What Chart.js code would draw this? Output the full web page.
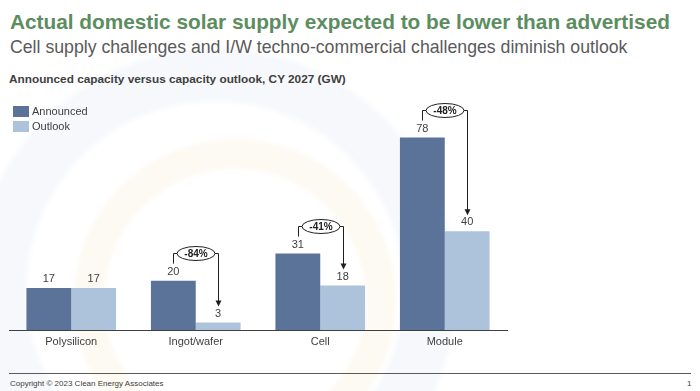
<!DOCTYPE html>
<html>
<head>
<meta charset="utf-8">
<script src="https://cdn.jsdelivr.net/npm/chart.js@4.4.0/dist/chart.umd.min.js"></script>
<style>
  html, body { margin: 0; padding: 0; }
  body {
    width: 700px; height: 391px; position: relative; overflow: hidden;
    font-family: "Liberation Sans", Arial, sans-serif;
    background:
      radial-gradient(circle at 235px 300px, rgba(255,255,255,0) 128px, rgba(252,245,230,0.5) 134px, rgba(252,245,230,0.5) 158px, rgba(255,255,255,0) 164px),
      radial-gradient(circle at 215px 290px, rgba(255,255,255,0) 185px, rgba(240,244,249,0.6) 192px, rgba(240,244,249,0.6) 238px, rgba(255,255,255,0) 245px),
      #fff;
  }
  .txt { position: absolute; white-space: nowrap; }
  #title { left: 10px; top: 10px; font-size: 20.8px; font-weight: bold; color: #5b8d5e; }
  #sub { left: 10px; top: 37px; font-size: 17.7px; color: #5a5a5a; }
  #head { left: 9px; top: 72px; font-size: 11.8px; font-weight: bold; color: #404040; }
  #foot { position: absolute; left: 9px; top: 373px; width: 682px; border-top: 1px solid #5a5a5a; }
  #copy { left: 10px; top: 379px; font-size: 8px; color: #404040; }
  #page { left: 687px; top: 379px; font-size: 8px; color: #404040; }
  #wrap { position: absolute; left: 0; top: 0; width: 700px; height: 391px; }
</style>
</head>
<body>
<div class="txt" id="title">Actual domestic solar supply expected to be lower than advertised</div>
<div class="txt" id="sub">Cell supply challenges and I/W techno-commercial challenges diminish outlook</div>
<div class="txt" id="head">Announced capacity versus capacity outlook, CY 2027 (GW)</div>
<div id="foot"></div>
<div class="txt" id="copy">Copyright © 2023 Clean Energy Associates</div>
<div class="txt" id="page">1</div>
<div id="wrap"><canvas id="myChart"></canvas></div>
<script>
// chart data
const categories = ['Polysilicon', 'Ingot/wafer', 'Cell', 'Module'];
const announced = [17, 20, 31, 78];
const outlook = [17, 3, 18, 40];
const changeLabels = [null, '-84%', '-41%', '-48%'];

const colAnnounced = '#5b7398';
const colOutlook = '#adc2db';
const textCol = '#404040';

// value labels, change brackets and legend
const overlay = {
  id: 'overlay',
  afterDatasetsDraw(chart) {
    const c = chart.ctx;
    const mA = chart.getDatasetMeta(0);
    const mB = chart.getDatasetMeta(1);
    c.save();
    c.font = '11px "Liberation Sans", Arial, sans-serif';
    c.fillStyle = textCol;
    c.textAlign = 'center';
    c.textBaseline = 'middle';
    [mA, mB].forEach((m, d) => {
      m.data.forEach((bar, i) => {
        const v = chart.data.datasets[d].data[i];
        c.fillText(v, bar.x, bar.y - 9);
      });
    });

    // brackets
    c.strokeStyle = '#202020';
    c.lineWidth = 1;
    changeLabels.forEach((lab, i) => {
      if (!lab) return;
      const ax = Math.round(mA.data[i].x) + 0.5, ay = mA.data[i].y;
      const bx = Math.round(mB.data[i].x) + 0.5, by = mB.data[i].y;
      const ly = Math.round(ay - 28) + 0.5;
      const cx = (ax + bx) / 2, rw = 19, rh = 7;
      c.fillStyle = '#202020';
      c.beginPath();
      c.moveTo(ax, ay - 17);
      c.lineTo(ax, ly);
      c.lineTo(cx - rw, ly);
      c.moveTo(cx + rw, ly);
      c.lineTo(bx, ly);
      c.lineTo(bx, by - 21);
      c.stroke();
      c.beginPath();
      c.moveTo(bx - 3, by - 22);
      c.lineTo(bx + 3, by - 22);
      c.lineTo(bx, by - 16);
      c.closePath();
      c.fill();
      c.beginPath();
      c.ellipse(cx, ly, rw, rh, 0, 0, Math.PI * 2);
      c.fillStyle = '#fff';
      c.fill();
      c.stroke();
      c.fillStyle = '#202020';
      c.font = 'bold 10px "Liberation Sans", Arial, sans-serif';
      c.fillText(lab, cx, ly + 0.5);
    });

    // legend
    c.textAlign = 'left';
    c.font = '11px "Liberation Sans", Arial, sans-serif';
    chart.data.datasets.forEach((ds, d) => {
      const y = 106 + d * 15;
      c.fillStyle = ds.backgroundColor;
      c.fillRect(13, y, 16, 11);
      c.fillStyle = textCol;
      c.fillText(ds.label, 32, y + 6);
    });
    c.restore();
  }
};

new Chart(document.getElementById('myChart'), {
  type: 'bar',
  data: {
    labels: categories,
    datasets: [
      { label: 'Announced', data: announced, backgroundColor: colAnnounced },
      { label: 'Outlook', data: outlook, backgroundColor: colOutlook }
    ]
  },
  options: {
    responsive: true,
    maintainAspectRatio: false,
    animation: false,
    events: [],
    layout: { padding: { left: 9, right: 193, top: 108, bottom: 37 } },
    datasets: { bar: { categoryPercentage: 0.72, barPercentage: 1 } },
    plugins: { legend: { display: false }, tooltip: { enabled: false } },
    scales: {
      x: {
        grid: { display: false, drawTicks: false },
        border: { display: true, color: textCol, width: 1 },
        ticks: { color: textCol, padding: 5, font: { size: 11, family: '"Liberation Sans", Arial, sans-serif' } },
        afterFit(s) { s.height = 24; }
      },
      y: { display: false, min: 0, max: 90 }
    }
  },
  plugins: [overlay]
});
</script>
</body>
</html>
